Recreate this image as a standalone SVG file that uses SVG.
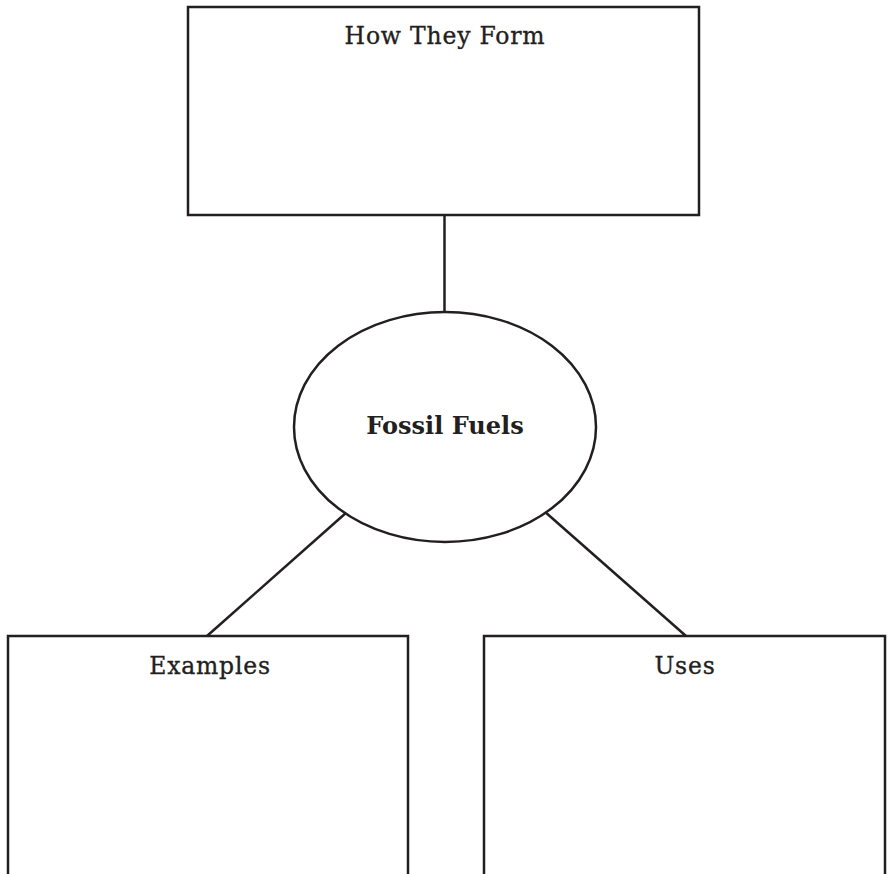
<svg xmlns="http://www.w3.org/2000/svg" width="890" height="874" viewBox="0 0 890 874">
  <style>
    .shape { fill: #ffffff; stroke: #231f20; stroke-width: 2.5; }
    .link { stroke: #231f20; stroke-width: 2.5; fill: none; }
    .label { font-family: "DejaVu Serif", "Liberation Serif", serif; fill: #231f20; text-anchor: middle; }
    .title { font-size: 23.5px; letter-spacing: 0.8px; stroke: #231f20; stroke-width: 0.35; }
    .center { font-size: 24px; font-weight: bold; }
  </style>
  <rect width="890" height="874" fill="#ffffff"/>

  <!-- connectors -->
  <g id="connectors">
    <line class="link" x1="444.5" y1="215" x2="444.5" y2="312"/>
    <line class="link" x1="347" y1="512" x2="207" y2="636"/>
    <line class="link" x1="544" y1="511" x2="686" y2="636"/>
  </g>

  <!-- top box -->
  <g id="how-they-form">
    <rect class="shape" x="188" y="7" width="511" height="208"/>
    <text class="label title" x="445" y="44">How They Form</text>
  </g>

  <!-- central ellipse -->
  <g id="fossil-fuels">
    <ellipse class="shape" cx="445" cy="427" rx="151" ry="115"/>
    <text class="label center" x="445" y="434">Fossil Fuels</text>
  </g>

  <!-- lower boxes, open at the bottom edge -->
  <g id="examples">
    <path class="shape" d="M8,880 V636 H408 V880"/>
    <text class="label title" x="210" y="674">Examples</text>
  </g>

  <g id="uses">
    <path class="shape" d="M484,880 V636 H885 V880"/>
    <text class="label title" x="685" y="674">Uses</text>
  </g>
</svg>
